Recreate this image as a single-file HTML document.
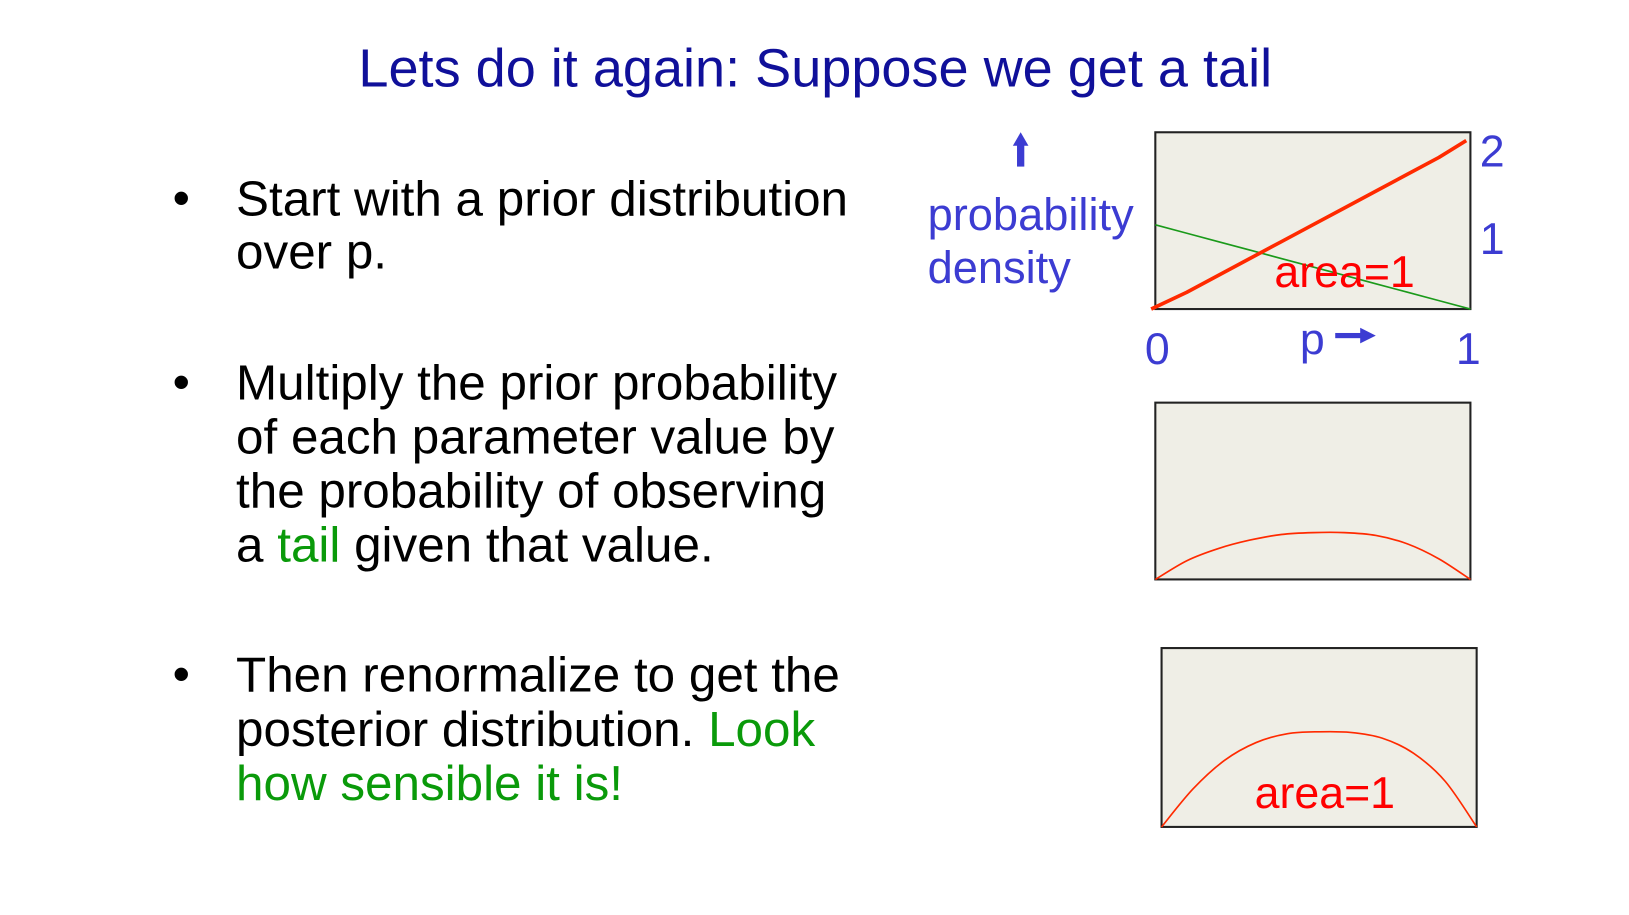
<!DOCTYPE html>
<html><head><meta charset="utf-8"><style>
html,body{margin:0;padding:0;background:#fff;}
svg{display:block;font-family:"Liberation Sans",Arial,sans-serif;}
</style></head><body>
<svg width="1629" height="915" viewBox="0 0 1566.5 879.5">
<text x="784" y="83" text-anchor="middle" font-size="52" fill="#10109a">Lets do it again: Suppose we get a tail</text>
<g font-size="47.5" fill="#000">
<text x="166" y="206">•</text>
<text x="227" y="207">Start with a prior distribution</text>
<text x="227" y="258">over p.</text>
<text x="166" y="383">•</text>
<text x="227" y="384">Multiply the prior probability</text>
<text x="227" y="436">of each parameter value by</text>
<text x="227" y="488">the probability of observing</text>
<text x="227" y="540">a <tspan fill="#0a9a0a">tail</tspan> given that value.</text>
<text x="166" y="664">•</text>
<text x="227" y="665">Then renormalize to get the</text>
<text x="227" y="717">posterior distribution. <tspan fill="#0a9a0a">Look</tspan></text>
<text x="227" y="769" fill="#0a9a0a">how sensible it is!</text>
</g>
<g fill="#3c3cd2">
<rect x="978" y="138" width="7" height="22"/>
<polygon points="974,140 981.5,127 989,140"/>
<text x="892" y="221" font-size="43.5">probability</text>
<text x="892" y="272" font-size="43.5">density</text>
<text x="1423" y="160" font-size="43">2</text>
<text x="1423" y="244" font-size="43">1</text>
<text x="1101" y="350" font-size="43">0</text>
<text x="1400" y="350" font-size="43">1</text>
<text x="1250" y="340" font-size="43">p</text>
<rect x="1284" y="320" width="26" height="5"/>
<polygon points="1308,315 1323,322.5 1308,330"/>
</g>
<g id="panels"></g>
</svg>
<script>
const xs = [0,0.1,0.2,0.3,0.4,0.5,0.6,0.7,0.8,0.9,1];
const priorVals = [0,0.2,0.4,0.6,0.8,1.0,1.2,1.4,1.6,1.8,2.0];
const likeVals = [1,0.9,0.8,0.7,0.6,0.5,0.4,0.3,0.2,0.1,0];
const productVals = [0,0.2,0.33,0.42,0.48,0.5,0.5,0.47,0.38,0.22,0];
const posteriorVals = [0,0.6,1.05,1.33,1.47,1.5,1.49,1.4,1.16,0.72,0];
const NS='http://www.w3.org/2000/svg';
const g=document.getElementById('panels');
function mk(t,a){const e=document.createElementNS(NS,t);for(const k in a)e.setAttribute(k,a[k]);g.appendChild(e);return e;}
function panel(name,x0,y0,w,h,ppu){
  const r=mk('rect',{x:x0,y:y0,width:w,height:h,fill:'#efeee6',stroke:'#222','stroke-width':2});
  
  
  return {sx:v=>x0+v*w, sy:v=>y0+h-v*ppu};
}
function line(p,vals,color,wd,name,dx,curve){
  const P=xs.map((x,i)=>[p.sx(x)+(dx?dx[i]:0),p.sy(vals[i])]);
  let d='M'+P[0][0]+','+P[0][1];
  if(curve){
    for(let i=0;i<P.length-1;i++){
      const p0=P[Math.max(0,i-1)],p1=P[i],p2=P[i+1],p3=P[Math.min(P.length-1,i+2)];
      const c1=[p1[0]+(p2[0]-p0[0])/6,p1[1]+(p2[1]-p0[1])/6];
      const c2=[p2[0]-(p3[0]-p1[0])/6,p2[1]-(p3[1]-p1[1])/6];
      d+=' C'+c1.join(',')+' '+c2.join(',')+' '+p2.join(',');
    }
  } else { for(let i=1;i<P.length;i++) d+=' L'+P[i][0]+','+P[i][1]; }
  const l=mk('path',{d:d,fill:'none',stroke:color,'stroke-width':wd,'stroke-linejoin':'round'});
  
  
}
const p1=panel('prior-panel',1111,127,303,170,81);
line(p1,likeVals,'#1a9a1a',1.6,'likelihood-line');
line(p1,priorVals,'#ff2a00',3.5,'prior-line',xs.map((x,i)=>i==0?-4:(i==10?-4:0)));
const t1=mk('text',{x:1293,y:276,'font-size':43,fill:'#ff0000','text-anchor':'middle'});
t1.textContent='area=1';


const p2=panel('product-panel',1111,387,303,170,90);
line(p2,productVals,'#ff2a00',1.6,'product-curve',null,true);
const p3=panel('posterior-panel',1117,623,303,172,61);
line(p3,posteriorVals,'#ff2a00',1.6,'posterior-curve',null,true);
const t3=mk('text',{x:1274,y:777,'font-size':43,fill:'#ff0000','text-anchor':'middle'});
t3.textContent='area=1';


</script>
</body></html>
